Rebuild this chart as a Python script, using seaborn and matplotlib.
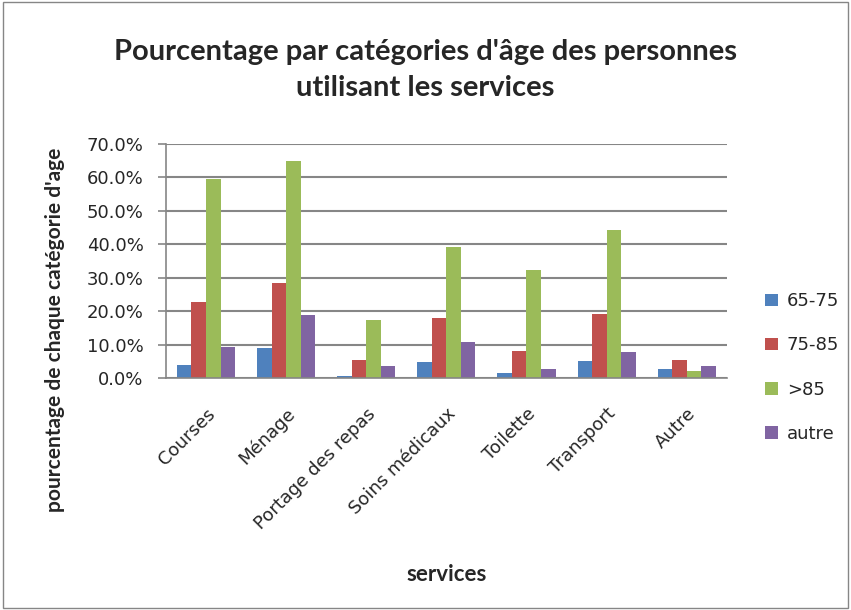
import matplotlib
matplotlib.use("Agg")
import matplotlib.pyplot as plt
import matplotlib.transforms as mtransforms
import seaborn as sns
import pandas as pd
from matplotlib.patches import Rectangle
from matplotlib.ticker import FuncFormatter, MultipleLocator

categories = ["Courses", "Ménage", "Portage des repas", "Soins médicaux", "Toilette", "Transport", "Autre"]
age_groups = ["65-75", "75-85", ">85", "autre"]
v_65_75 = [3.9, 9.0, 0.6, 4.8, 1.5, 5.1, 2.7]
v_75_85 = [22.7, 28.4, 5.4, 18.0, 8.1, 19.1, 5.4]
v_85 = [59.5, 64.9, 17.3, 39.2, 32.3, 44.3, 2.1]
v_autre = [9.3, 18.8, 3.6, 10.8, 2.7, 7.8, 3.6]
colors = ["#4F81BD", "#C0504D", "#9BBB59", "#8064A2"]

series = [v_65_75, v_75_85, v_85, v_autre]
rows = []
for g, vals in zip(age_groups, series):
    for c, v in zip(categories, vals):
        rows.append({"service": c, "age": g, "pct": v})
df = pd.DataFrame(rows)

sns.set_theme(style="white")
plt.rcParams["font.family"] = ["DejaVu Sans"]
head_font = ["Lato", "DejaVu Sans"]

fig = plt.figure(figsize=(8.51, 6.10), dpi=100)
ax = fig.add_axes([0.195, 0.380, 0.659, 0.384])

sns.barplot(data=df, x="service", y="pct", hue="age", hue_order=age_groups,
            order=categories, palette=colors, width=0.725, saturation=1,
            edgecolor="none", ax=ax, legend=True)

ax.set_ylim(0, 70)
ax.yaxis.set_major_locator(MultipleLocator(10))
ax.yaxis.set_major_formatter(FuncFormatter(lambda v, p: f"{v:.1f}%"))
ax.set_xlim(-0.5, len(categories) - 0.5)
ax.grid(axis="y", color="#868686", linewidth=1.5)
ax.set_axisbelow(True)
for s in ["top", "right"]:
    ax.spines[s].set_visible(False)
ax.spines["left"].set_color("#868686")
ax.spines["bottom"].set_color("#868686")
ax.spines["left"].set_linewidth(1.2)
ax.spines["bottom"].set_linewidth(1.2)
ax.tick_params(axis="y", left=True, length=6, width=1.2, color="#868686", labelsize=13, pad=10)
ax.tick_params(axis="x", bottom=False, labelsize=13, pad=2)
offset = mtransforms.ScaledTranslation(0 / 72, -11 / 72, fig.dpi_scale_trans)
for lab in ax.get_xticklabels():
    lab.set_rotation(45)
    lab.set_ha("right")
    lab.set_rotation_mode("anchor")
    lab.set_transform(lab.get_transform() + offset)

ax.set_xlabel("services", fontsize=16, fontweight="bold", fontfamily=head_font)
ax.xaxis.set_label_coords(0.5, -0.84)
ax.xaxis.label.set_va("center")
ax.set_ylabel("pourcentage de chaque catégorie d'age", fontsize=15, fontweight="bold",
              fontfamily=head_font)
ax.yaxis.set_label_coords(-0.18, 0.205)

h, l = ax.get_legend_handles_labels()
ax.get_legend().remove()
fig.legend(h, l, loc="center left", bbox_to_anchor=(0.88, 0.3975), frameon=False,
           labelspacing=1.45, handlelength=0.7, handleheight=0.7,
           handletextpad=0.5, prop={"family": "DejaVu Sans", "size": 13})

fig.text(0.5, 0.885, "Pourcentage par catégories d'âge des personnes\nutilisant les services",
         ha="center", va="center", fontsize=21, fontweight="bold", linespacing=1.45,
         fontfamily=head_font)

fig.patches.append(Rectangle((0.003, 0.003), 0.994, 0.994, transform=fig.transFigure,
                             fill=False, edgecolor="#868686", linewidth=1))

fig.savefig("out.png", dpi=100)
